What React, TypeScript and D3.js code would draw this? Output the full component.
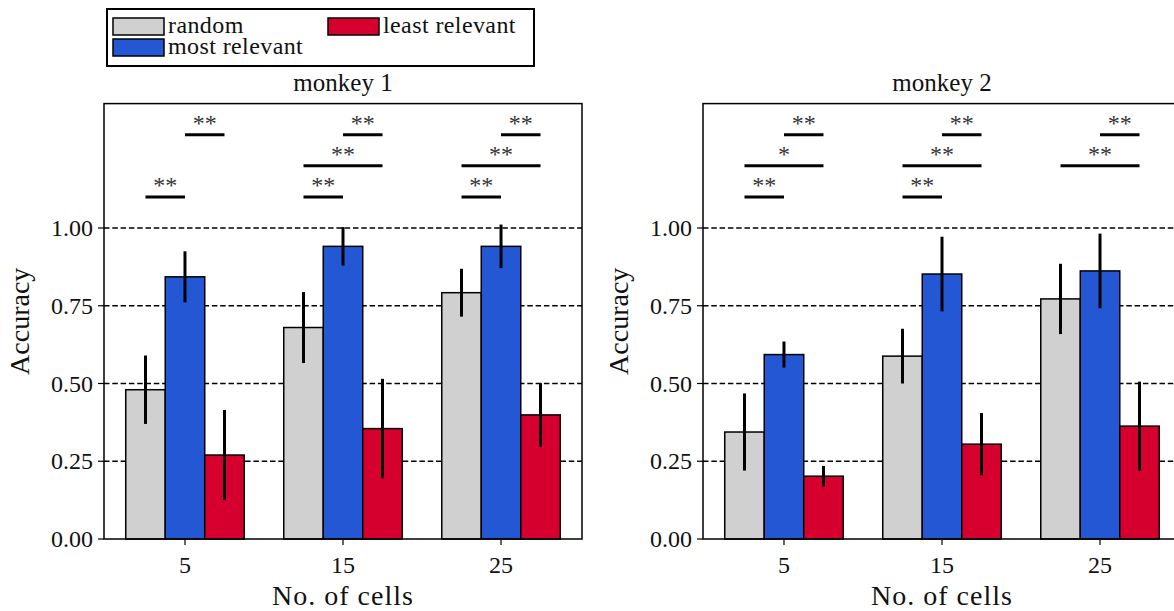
import React from "react";
import * as d3 from "d3";

// ---------- data ----------
const categories = ["5", "15", "25"];
const seriesNames = ["random", "most relevant", "least relevant"];
const seriesColors = ["#d0d0d0", "#2457d3", "#d6002f"];
const yTicks = [0, 0.25, 0.5, 0.75, 1.0];
const panelTitles = ["monkey 1", "monkey 2"];

// monkey 1
const m1Random = [0.48, 0.68, 0.792];
const m1RandomErr = [0.11, 0.114, 0.077];
const m1Most = [0.843, 0.941, 0.941];
const m1MostErr = [0.082, 0.062, 0.07];
const m1Least = [0.27, 0.355, 0.399];
const m1LeastErr = [0.145, 0.16, 0.102];

// monkey 2
const m2Random = [0.344, 0.588, 0.772];
const m2RandomErr = [0.124, 0.088, 0.113];
const m2Most = [0.593, 0.852, 0.862];
const m2MostErr = [0.042, 0.12, 0.12];
const m2Least = [0.202, 0.305, 0.363];
const m2LeastErr = [0.033, 0.1, 0.143];

// significance: [group, fromSeries, toSeries, level, label]
const m1Sig: [number, number, number, number, string][] = [
  [0, 0, 1, 1.1, "**"],
  [0, 1, 2, 1.3, "**"],
  [1, 0, 1, 1.1, "**"],
  [1, 0, 2, 1.2, "**"],
  [1, 1, 2, 1.3, "**"],
  [2, 0, 1, 1.1, "**"],
  [2, 0, 2, 1.2, "**"],
  [2, 1, 2, 1.3, "**"],
];
const m2Sig: [number, number, number, number, string][] = [
  [0, 0, 1, 1.1, "**"],
  [0, 0, 2, 1.2, "*"],
  [0, 1, 2, 1.3, "**"],
  [1, 0, 1, 1.1, "**"],
  [1, 0, 2, 1.2, "**"],
  [1, 1, 2, 1.3, "**"],
  [2, 0, 2, 1.2, "**"],
  [2, 1, 2, 1.3, "**"],
];

const panels = [
  {
    title: panelTitles[0],
    values: [m1Random, m1Most, m1Least],
    errors: [m1RandomErr, m1MostErr, m1LeastErr],
    sig: m1Sig,
  },
  {
    title: panelTitles[1],
    values: [m2Random, m2Most, m2Least],
    errors: [m2RandomErr, m2MostErr, m2LeastErr],
    sig: m2Sig,
  },
];

// ---------- layout ----------
const W = 1174;
const H = 611;
const panelLefts = [104, 703];
const panelWidth = 478;
const plotTop = 103.6;
const plotBottom = 539;
const FONT = "'Liberation Serif', 'Times New Roman', serif";
const barWidthFrac = 0.25;

function Panel({ p, left }: { p: (typeof panels)[number]; left: number }) {
  const x = d3.scaleLinear().domain([-0.5125, 2.5125]).range([left, left + panelWidth]);
  const y = d3.scaleLinear().domain([0, 1.4]).range([plotBottom, plotTop]);
  const bw = x(barWidthFrac) - x(0);
  const offsets = [-barWidthFrac, 0, barWidthFrac];
  const right = left + panelWidth;
  const cx = (g: number, s: number) => x(g + offsets[s]);

  return (
    <g>
      {/* grid */}
      {yTicks.filter((t) => t > 0).map((t) => (
        <line
          key={"g" + t}
          x1={left}
          x2={right}
          y1={y(t)}
          y2={y(t)}
          stroke="#000"
          strokeWidth={1.3}
          strokeDasharray="5.5,2.8"
        />
      ))}
      {/* bars */}
      {p.values.map((vals, s) =>
        vals.map((v, g) => (
          <rect
            key={`b${s}-${g}`}
            x={cx(g, s) - bw / 2}
            y={y(v)}
            width={bw}
            height={y(0) - y(v)}
            fill={seriesColors[s]}
            stroke="#000"
            strokeWidth={1.5}
          />
        ))
      )}
      {/* error bars */}
      {p.values.map((vals, s) =>
        vals.map((v, g) => (
          <line
            key={`e${s}-${g}`}
            x1={cx(g, s)}
            x2={cx(g, s)}
            y1={y(v - p.errors[s][g])}
            y2={y(v + p.errors[s][g])}
            stroke="#000"
            strokeWidth={3}
          />
        ))
      )}
      {/* significance */}
      {p.sig.map(([g, a, b, lvl, lab], i) => (
        <g key={"s" + i}>
          <line
            x1={cx(g, a)}
            x2={cx(g, b)}
            y1={y(lvl)}
            y2={y(lvl)}
            stroke="#000"
            strokeWidth={3}
          />
          <text
            x={(cx(g, a) + cx(g, b)) / 2}
            y={y(lvl) - 4}
            textAnchor="middle"
            fontFamily={FONT}
            fontSize={24}
            fill="#333"
          >
            {lab}
          </text>
        </g>
      ))}
      {/* frame */}
      <rect x={left} y={plotTop} width={panelWidth} height={plotBottom - plotTop} fill="none" stroke="#000" strokeWidth={1.5} />
      {/* y ticks */}
      {yTicks.map((t) => (
        <g key={"yt" + t}>
          <line x1={left - 6} x2={left} y1={y(t)} y2={y(t)} stroke="#000" strokeWidth={1.2} />
          <text
            x={left - 11}
            y={y(t)}
            textAnchor="end"
            dominantBaseline="central"
            fontFamily={FONT}
            fontSize={24}
            fill="#111"
          >
            {d3.format(".2f")(t)}
          </text>
        </g>
      ))}
      {/* x ticks */}
      {categories.map((c, g) => (
        <g key={"xt" + c}>
          <line x1={x(g)} x2={x(g)} y1={plotBottom} y2={plotBottom + 6} stroke="#000" strokeWidth={1.2} />
          <text x={x(g)} y={plotBottom + 34} textAnchor="middle" fontFamily={FONT} fontSize={24} fill="#111">
            {c}
          </text>
        </g>
      ))}
      {/* axis labels */}
      <text
        x={(left + right) / 2}
        y={605}
        textAnchor="middle"
        fontFamily={FONT}
        fontSize={28}
        letterSpacing={1}
        fill="#111"
      >
        No. of cells
      </text>
      <text
        transform={`translate(${left - 75},${(plotTop + plotBottom) / 2}) rotate(-90)`}
        textAnchor="middle"
        fontFamily={FONT}
        fontSize={28}
        fill="#111"
      >
        Accuracy
      </text>
      {/* title */}
      <text x={(left + right) / 2} y={91} textAnchor="middle" fontFamily={FONT} fontSize={25} fill="#111">
        {p.title}
      </text>
    </g>
  );
}

function Legend() {
  const items = [
    { name: seriesNames[0], color: seriesColors[0], px: 113, py: 18 },
    { name: seriesNames[2], color: seriesColors[2], px: 328, py: 18 },
    { name: seriesNames[1], color: seriesColors[1], px: 113, py: 39 },
  ];
  return (
    <g>
      <rect x={107} y={9} width={427} height={57} fill="#fff" stroke="#000" strokeWidth={2} />
      {items.map((it) => (
        <g key={it.name}>
          <rect x={it.px} y={it.py} width={51} height={17} fill={it.color} stroke="#000" strokeWidth={1.5} />
          <text x={it.px + 55} y={it.py + 15} fontFamily={FONT} fontSize={24} letterSpacing={0.4} fill="#111">
            {it.name}
          </text>
        </g>
      ))}
    </g>
  );
}

export default function App() {
  return (
    <svg
      width={W}
      height={H}
      viewBox={`0 0 ${W} ${H}`}
      style={{ position: "absolute", left: 0, top: 0, background: "#fff" }}
    >
      <rect x={0} y={0} width={W} height={H} fill="#fff" />
      {panels.map((p, i) => (
        <Panel key={p.title} p={p} left={panelLefts[i]} />
      ))}
      <Legend />
    </svg>
  );
}
